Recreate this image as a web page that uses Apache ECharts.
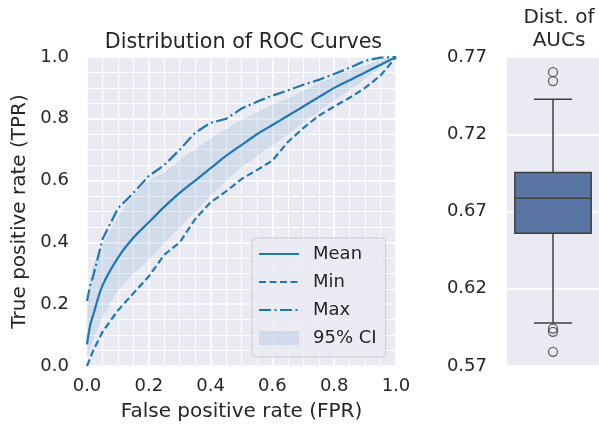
<!DOCTYPE html>
<html><head><meta charset="utf-8">
<script src="https://cdn.jsdelivr.net/npm/echarts@6/dist/echarts.min.js"></script>
<style>html,body{margin:0;padding:0;background:#fff}#c{width:599px;height:427px}</style>
</head><body><div id="c"></div>
<script>
// ROC data
const fpr      = [0, 0.01, 0.02, 0.05, 0.1, 0.15, 0.2, 0.25, 0.3, 0.35, 0.4, 0.45, 0.5, 0.55, 0.6, 0.65, 0.7, 0.75, 0.8, 0.85, 0.9, 0.95, 1.0];
const tprMean  = [0.07, 0.13, 0.165, 0.26, 0.35, 0.415, 0.465, 0.515, 0.56, 0.60, 0.64, 0.68, 0.715, 0.75, 0.78, 0.81, 0.84, 0.87, 0.90, 0.925, 0.95, 0.975, 1.0];
const tprMin   = [0.0, 0.025, 0.05, 0.11, 0.18, 0.235, 0.29, 0.36, 0.40, 0.475, 0.53, 0.565, 0.605, 0.634, 0.665, 0.725, 0.77, 0.81, 0.84, 0.868, 0.90, 0.94, 1.0];
const tprMax   = [0.21, 0.26, 0.29, 0.41, 0.51, 0.56, 0.615, 0.65, 0.70, 0.755, 0.787, 0.80, 0.833, 0.855, 0.875, 0.892, 0.91, 0.926, 0.945, 0.965, 0.988, 0.998, 1.0];
const ciUpper  = [0.17, 0.27, 0.32, 0.39, 0.48, 0.55, 0.60, 0.625, 0.665, 0.70, 0.735, 0.765, 0.795, 0.82, 0.845, 0.865, 0.89, 0.913, 0.935, 0.955, 0.972, 0.988, 1.0];
const ciLower  = [0.03, 0.06, 0.09, 0.16, 0.245, 0.30, 0.345, 0.40, 0.45, 0.50, 0.553, 0.60, 0.645, 0.68, 0.715, 0.75, 0.79, 0.825, 0.86, 0.895, 0.93, 0.965, 1.0];
const rocTicks = [0, 0.2, 0.4, 0.6, 0.8, 1.0];

// AUC box plot data
const aucBox      = [0.5979, 0.6559, 0.6785, 0.6953, 0.7426]; // lower whisker, Q1, median, Q3, upper whisker
const aucOutliers = [0.7602, 0.7544, 0.5942, 0.5921, 0.5792];
const aucTicks    = [0.57, 0.62, 0.67, 0.72, 0.77];

const BLUE = '#1f77b4';
const BAND = 'rgba(31,119,180,0.12)';
const TXT = '#262626';
const FONT = 'DejaVu Sans';
const pair = (xs, ys) => xs.map((x, i) => [x, ys[i]]);

const chart = echarts.init(document.getElementById('c'), null, {renderer: 'canvas'});
const option = {
  animation: false,
  textStyle: {fontFamily: FONT, color: TXT},
  title: [
    {text: 'Distribution of ROC Curves', left: 238.5, top: 27, textAlign: 'center',
     textStyle: {fontFamily: FONT, fontSize: 20.7, fontWeight: 'normal', color: TXT}},
    {text: 'Dist. of\nAUCs', left: 554, top: 1, textAlign: 'center',
     textStyle: {fontFamily: FONT, fontSize: 20, fontWeight: 'normal', color: TXT, lineHeight: 23}}
  ],
  grid: [
    {left: 87, top: 57, width: 309, height: 309, show: true, backgroundColor: '#eaeaf2', borderWidth: 0},
    {left: 507, top: 57, width: 94, height: 309, show: true, backgroundColor: '#eaeaf2', borderWidth: 0}
  ],
  legend: {
    orient: 'vertical', left: 252, top: 238,
    padding: [7, 9, 10, 6], itemGap: 10, itemWidth: 40, itemHeight: 14,
    backgroundColor: 'rgba(234,234,242,0.8)', borderColor: '#cccccc', borderWidth: 1, borderRadius: 4,
    itemStyle: {opacity: 0},
    textStyle: {fontFamily: FONT, fontSize: 18, color: TXT, lineHeight: 18, padding: [0, 0, 0, 9]},
    data: [
      {name: 'Mean'}, {name: 'Min'}, {name: 'Max'},
      {name: '95% CI', icon: 'rect', itemStyle: {color: BAND, opacity: 1, borderWidth: 0}}
    ]
  },
  xAxis: [
    {type: 'value', gridIndex: 0, min: rocTicks[0], max: rocTicks[rocTicks.length - 1], interval: 0.2,
     name: 'False positive rate (FPR)', nameLocation: 'middle', nameGap: 36,
     nameTextStyle: {fontFamily: FONT, fontSize: 20, color: TXT},
     axisLine: {show: false}, axisTick: {show: false},
     axisLabel: {fontFamily: FONT, fontSize: 18, color: TXT, margin: 11, formatter: v => v.toFixed(1)},
     splitLine: {show: true, lineStyle: {color: '#ffffff', width: 1.5}},
     minorTick: {show: false, splitNumber: 4},
     minorSplitLine: {show: true, lineStyle: {color: '#ffffff', width: 0.9}}},
    {type: 'category', gridIndex: 1, data: [''], axisLine: {show: false}, axisTick: {show: false},
     axisLabel: {show: false}, splitLine: {show: false}}
  ],
  yAxis: [
    {type: 'value', gridIndex: 0, min: rocTicks[0], max: rocTicks[rocTicks.length - 1], interval: 0.2,
     name: 'True positive rate (TPR)', nameLocation: 'middle', nameGap: 57,
     nameTextStyle: {fontFamily: FONT, fontSize: 20, color: TXT},
     axisLine: {show: false}, axisTick: {show: false},
     axisLabel: {fontFamily: FONT, fontSize: 18, color: TXT, margin: 18, formatter: v => v.toFixed(1)},
     splitLine: {show: true, lineStyle: {color: '#ffffff', width: 1.5}},
     minorTick: {show: false, splitNumber: 4},
     minorSplitLine: {show: true, lineStyle: {color: '#ffffff', width: 0.9}}},
    {type: 'value', gridIndex: 1, min: aucTicks[0], max: aucTicks[aucTicks.length - 1], interval: 0.05,
     axisLine: {show: false}, axisTick: {show: false},
     axisLabel: {fontFamily: FONT, fontSize: 18, color: TXT, margin: 20, formatter: v => v.toFixed(2)},
     splitLine: {show: true, lineStyle: {color: '#ffffff', width: 1.5}}}
  ],
  series: [
    {name: '95% CI', type: 'custom', xAxisIndex: 0, yAxisIndex: 0, silent: true, z: 1,
     itemStyle: {color: BAND},
     data: fpr.map((x, i) => [x, ciLower[i], ciUpper[i]]), encode: {x: 0, y: [1, 2]},
     renderItem: function (params, api) {
       if (params.dataIndexInside !== 0) return null;
       const n = params.dataInsideLength;
       const up = [], lo = [];
       for (let j = 0; j < n; j++) {
         const x = api.value(0, j);
         lo.push(api.coord([x, api.value(1, j)]));
         up.push(api.coord([x, api.value(2, j)]));
       }
       return {type: 'polygon', shape: {points: up.concat(lo.reverse()), smooth: 0.2},
               style: {fill: BAND, stroke: 'rgba(31,119,180,0.06)', lineWidth: 1}};
     }},
    {name: 'Mean', type: 'line', xAxisIndex: 0, yAxisIndex: 0, symbol: 'none', smooth: 0.3,
     data: pair(fpr, tprMean), itemStyle: {color: BLUE}, lineStyle: {color: BLUE, width: 2.2}, z: 3},
    {name: 'Min', type: 'line', xAxisIndex: 0, yAxisIndex: 0, symbol: 'none',
     data: pair(fpr, tprMin), itemStyle: {color: BLUE},
     lineStyle: {color: BLUE, width: 2.2, type: [7, 3.5]}, z: 3},
    {name: 'Max', type: 'line', xAxisIndex: 0, yAxisIndex: 0, symbol: 'none',
     data: pair(fpr, tprMax), itemStyle: {color: BLUE},
     lineStyle: {color: BLUE, width: 2.2, type: [12, 3.5, 2, 3.5]}, z: 3},
    {name: 'AUC box', type: 'custom', xAxisIndex: 1, yAxisIndex: 1,
     data: [[0].concat(aucBox)], encode: {x: 0, y: [1, 2, 3, 4, 5]},
     renderItem: function (params, api) {
       const x = api.value(0);
       const pLo = api.coord([x, api.value(1)]);
       const pQ1 = api.coord([x, api.value(2)]);
       const pMed = api.coord([x, api.value(3)]);
       const pQ3 = api.coord([x, api.value(4)]);
       const pHi = api.coord([x, api.value(5)]);
       const bw = api.size([1, 0])[0];
       const hb = bw * 0.415, hc = bw * 0.207, cx = pMed[0];
       const ls = {stroke: '#3f3f3f', lineWidth: 1.5};
       return {type: 'group', children: [
         {type: 'line', shape: {x1: cx, y1: pQ1[1], x2: cx, y2: pLo[1]}, style: ls},
         {type: 'line', shape: {x1: cx, y1: pQ3[1], x2: cx, y2: pHi[1]}, style: ls},
         {type: 'line', shape: {x1: cx - hc, y1: pLo[1], x2: cx + hc, y2: pLo[1]}, style: ls},
         {type: 'line', shape: {x1: cx - hc, y1: pHi[1], x2: cx + hc, y2: pHi[1]}, style: ls},
         {type: 'rect', shape: {x: cx - hb, y: pQ3[1], width: 2 * hb, height: pQ1[1] - pQ3[1]},
          style: {fill: '#5975a4', stroke: '#3f3f3f', lineWidth: 1.5}},
         {type: 'line', shape: {x1: cx - hb, y1: pMed[1], x2: cx + hb, y2: pMed[1]}, style: ls}
       ]};
     }},
    {name: 'AUC outliers', type: 'scatter', xAxisIndex: 1, yAxisIndex: 1,
     data: aucOutliers.map(v => [0, v]), symbol: 'circle', symbolSize: 9,
     itemStyle: {color: 'rgba(0,0,0,0)', borderColor: '#3f3f3f', borderWidth: 1.3}, z: 4}
  ]
};
chart.setOption(option);
</script>
</body></html>
